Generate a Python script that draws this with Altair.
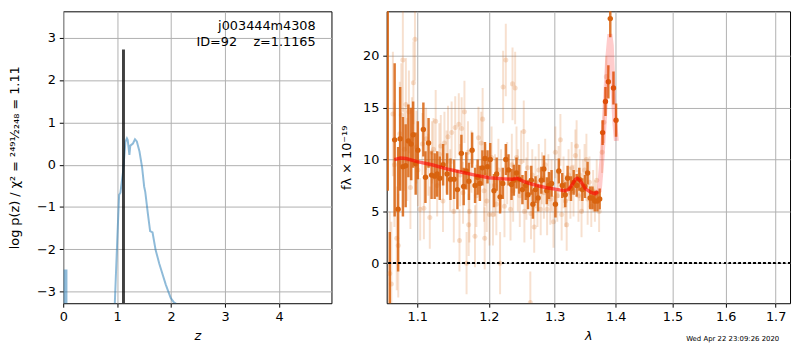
import altair as alt
import pandas as pd

# ---------------- left panel: log p(z) ----------------
z_grid = [0.020, 0.024, 0.060, 0.065, 0.940, 0.955, 1.000, 1.036, 1.060, 1.110,
          1.152, 1.180, 1.195, 1.226, 1.243, 1.292, 1.330, 1.364, 1.413, 1.462,
          1.500, 1.520, 1.570, 1.610, 1.655, 1.710, 1.780, 1.900, 1.990, 2.050,
          2.080, 2.100, 4.970]
logp = [-30.0, -2.50, -2.50, -30.0, -30.0, -3.30, -1.81, -0.71, -0.66, -0.15,
        0.54, 0.62, 0.58, 0.23, 0.45, 0.50, 0.60, 0.55, 0.31, -0.07,
        -0.52, -0.64, -1.17, -1.57, -1.60, -2.00, -2.34, -2.83, -3.14, -3.25,
        -3.27, -30.0, -30.0]
z_best = [1.1165]
logp_peak = [2.72]
obj_name = ["j003444m4308"]
id_text = ["ID=92\u00a0\u00a0\u00a0\u00a0z=1.1165"]
left_ytitle = "log p(z) / \u03c7\u00b2 = \u00b2\u2074\u2079\u00b9\u2044\u2082\u2082\u2084\u2088 = 1.11"
left_xticks = [0, 1, 2, 3, 4]
left_yticks = [-3, -2, -1, 0, 1, 2, 3]

# ---------------- right panel: spectrum ----------------
dark_lam = [1.0614, 1.0640, 1.0703, 1.0748, 1.0775, 1.0811, 1.0847, 1.0883, 1.0919, 1.0946,
            1.0980, 1.1009, 1.1083, 1.1111, 1.1153, 1.1194, 1.1236, 1.1270, 1.1306, 1.1352,
            1.1407, 1.1454, 1.1505, 1.1551, 1.1607, 1.1639, 1.1676, 1.1713, 1.1759, 1.1801,
            1.1838, 1.1870, 1.1907, 1.1944, 1.1981, 1.2020, 1.2075, 1.2115, 1.2165, 1.2205,
            1.2250, 1.2290, 1.2335, 1.2370, 1.2410, 1.2450, 1.2500, 1.2550, 1.2585, 1.2635,
            1.2660, 1.2700, 1.2740, 1.2790, 1.2830, 1.2875, 1.2910, 1.2950, 1.3011, 1.3065,
            1.3119, 1.3167, 1.3205, 1.3259, 1.3302, 1.3351, 1.3394, 1.3443, 1.3486, 1.3529,
            1.3572, 1.3610, 1.3648, 1.3691, 1.3729, 1.3778, 1.3826, 1.3875, 1.3907, 1.3961,
            1.4005]
dark_f = [28.0, -4.5, 11.9, 5.2, 12.0, 9.3, 9.4, 11.8, 11.5, 12.4,
          9.6, 10.9, 12.9, 8.3, 11.6, 8.5, 8.4, 8.6, 8.2, 9.5,
          8.6, 8.1, 8.1, 7.1, 10.6, 7.4, 8.9, 7.9, 10.9, 7.5,
          8.3, 7.7, 9.2, 10.1, 9.3, 10.0, 7.0, 8.6, 6.4, 7.7,
          10.0, 9.0, 7.6, 8.0, 8.7, 8.1, 7.1, 7.5, 6.6, 8.0,
          5.7, 7.1, 6.3, 8.0, 9.1, 7.0, 7.5, 7.7, 5.7, 8.9,
          7.5, 6.6, 8.2, 7.2, 7.8, 7.5, 8.1, 7.1, 7.4, 8.7,
          6.3, 6.3, 6.0, 6.0, 6.2, 12.6, 15.6, 17.5, 23.6, 16.9,
          13.8]
dark_e = [21.0, 7.5, 7.4, 6.0, 5.0, 4.8, 4.0, 3.5, 3.5, 3.2,
          3.0, 2.8, 2.6, 2.5, 2.4, 2.3, 2.2, 2.2, 2.1, 2.0,
          2.0, 2.0, 1.9, 1.9, 1.8, 1.8, 1.8, 1.8, 1.7, 1.7,
          1.7, 1.7, 1.7, 1.6, 1.6, 1.6, 1.6, 1.6, 1.6, 1.5,
          1.5, 1.5, 1.5, 1.5, 1.5, 1.4, 1.4, 1.4, 1.4, 1.4,
          1.4, 1.3, 1.3, 1.3, 1.3, 1.3, 1.3, 1.3, 1.3, 1.2,
          1.2, 1.2, 1.2, 1.2, 1.2, 1.1, 1.1, 1.1, 1.1, 1.1,
          1.1, 1.1, 1.0, 1.0, 1.0, 1.2, 1.4, 1.6, 1.8, 1.6,
          1.6]

light_lam = [1.064, 1.066, 1.068, 1.070, 1.073, 1.075, 1.077, 1.079, 1.081, 1.083,
             1.085, 1.087, 1.089, 1.091, 1.093, 1.095, 1.097, 1.099, 1.101, 1.104,
             1.107, 1.109, 1.112, 1.115, 1.117, 1.120, 1.122, 1.125, 1.127, 1.130,
             1.132, 1.135, 1.137, 1.140, 1.142, 1.145, 1.147, 1.150, 1.152, 1.157,
             1.158, 1.159, 1.161, 1.163, 1.165, 1.168, 1.170, 1.171, 1.172, 1.175,
             1.180, 1.182, 1.185, 1.189, 1.191, 1.193, 1.194, 1.195, 1.197, 1.201,
             1.204, 1.206, 1.209, 1.211, 1.214, 1.2165, 1.218, 1.221, 1.223, 1.225,
             1.227, 1.232, 1.234, 1.235, 1.236, 1.239, 1.241, 1.243, 1.246, 1.248,
             1.252, 1.253, 1.256, 1.258, 1.262, 1.263, 1.265, 1.268, 1.270, 1.273,
             1.275, 1.278, 1.280, 1.283, 1.285, 1.288, 1.290, 1.293, 1.295, 1.298,
             1.301, 1.304, 1.306, 1.309, 1.311, 1.314, 1.317, 1.319, 1.322, 1.325,
             1.327, 1.330, 1.333, 1.335, 1.338, 1.340, 1.343, 1.345, 1.348, 1.351,
             1.353, 1.356, 1.359, 1.362, 1.365, 1.368, 1.372, 1.377, 1.380, 1.384]
light_f = [-1.0, -2.0, 14.4, 9.5, 2.4, 1.7, 12.5, 14.3, 19.6, 11.0,
           15.3, 10.0, 14.6, 7.3, 12.0, 17.4, 21.6, 11.2, 9.0, 5.2,
           11.5, 5.3, 12.0, 9.5, 4.4, 10.7, 11.0, 13.7, 7.5, 10.5,
           11.3, 6.0, 11.6, 9.8, 12.2, 8.0, 12.6, 5.0, 13.1, 13.4,
           2.2, 8.5, 13.0, 6.8, 14.6, 0.0, 10.7, 3.7, 5.0, 9.8,
           2.6, 6.5, 12.1, 11.6, 13.9, 7.0, 2.4, 8.5, 6.0, 4.7,
           10.2, 4.7, 7.5, 5.7, 9.0, 0.0, 8.0, 17.0, 5.5, 19.6,
           8.7, 5.2, 9.5, 17.3, 7.0, 16.9, 10.2, 8.0, 6.5, 9.8,
           12.7, 5.0, 7.2, 9.2, -3.8, 4.8, 8.5, 3.5, 7.8, 6.0,
           9.0, 5.2, 8.2, 6.8, 9.5, 5.2, 8.0, 6.2, 7.5, 4.0,
           10.7, 6.5, 8.8, 11.9, 4.7, 7.8, 6.0, 3.7, 8.5, 6.8,
           9.2, 7.0, 10.4, 11.3, 6.5, 8.5, 5.0, 7.5, 9.0, 10.0,
           6.2, 7.8, 5.5, 7.0, 6.0, 8.0, 5.0, 10.7, 13.6, 18.0]
light_e = [6.0, 6.0, 6.0, 6.0, 5.0, 5.0, 5.0, 5.0, 5.0, 4.0,
           4.5, 4.0, 4.0, 4.0, 4.0, 4.0, 4.0, 3.5, 3.5, 3.0,
           3.0, 3.0, 3.0, 3.0, 3.0, 3.0, 3.0, 3.0, 3.0, 3.0,
           3.0, 3.0, 3.0, 3.0, 3.0, 3.0, 3.0, 3.0, 3.0, 3.0,
           3.0, 3.0, 3.0, 3.0, 3.0, 3.0, 3.0, 3.0, 3.0, 3.0,
           3.0, 3.0, 3.0, 3.0, 3.0, 3.0, 3.0, 3.0, 3.0, 3.0,
           3.0, 3.0, 3.0, 3.0, 3.0, 3.0, 3.0, 3.5, 3.0, 3.5,
           3.0, 3.0, 3.0, 3.5, 3.0, 3.5, 3.0, 3.0, 3.0, 3.0,
           3.0, 3.0, 3.0, 2.5, 3.0, 2.5, 2.5, 2.5, 2.5, 2.5,
           2.5, 2.5, 2.5, 2.5, 2.5, 2.5, 2.5, 2.5, 2.5, 2.5,
           2.5, 2.5, 2.5, 2.5, 2.5, 2.5, 2.5, 2.5, 2.5, 2.5,
           2.5, 2.5, 2.5, 2.5, 2.5, 2.5, 2.5, 2.5, 2.5, 2.5,
           2.5, 2.5, 2.0, 2.0, 2.0, 2.0, 2.0, 2.0, 2.0, 2.0]

model_lam = [1.0700, 1.0780, 1.0850, 1.1000, 1.1200, 1.1400, 1.1600, 1.1800, 1.2000, 1.2200,
             1.2350, 1.2420, 1.2500, 1.2600, 1.2750, 1.2900, 1.3050, 1.3160, 1.3220, 1.3280,
             1.3330, 1.3360, 1.3400, 1.3450, 1.3490, 1.3580, 1.3650, 1.3700]
model_f = [10.0, 10.15, 10.1, 9.8, 9.5, 9.1, 8.8, 8.5, 8.25, 8.15,
           8.1, 8.2, 7.95, 7.7, 7.45, 7.25, 7.1, 7.0, 7.1, 7.6,
           8.1, 8.2, 8.0, 7.6, 7.2, 6.85, 6.7, 6.9]
line_lam = [1.3650, 1.3723, 1.3768, 1.3820, 1.3860, 1.3900, 1.3925, 1.3956, 1.3985, 1.4010]
line_f = [6.7, 7.0, 10.1, 15.0, 19.5, 22.1, 21.0, 16.6, 13.5, 11.8]

right_xticks = [1.1, 1.2, 1.3, 1.4, 1.5, 1.6, 1.7]
right_yticks = [0, 5, 10, 15, 20]
stamp = ["Wed Apr 22 23:09:26 2020"]

ORANGE = "#d8630f"
FONT = "DejaVu Sans"
W_L, W_R, H = 272, 409, 296

# ---------- left chart ----------
xs_l = alt.Scale(domain=[0, 4.97], nice=False, zero=False)
ys_l = alt.Scale(domain=[-3.27, 3.62], nice=False, zero=False)


def lx(field):
    return alt.X(field, scale=xs_l,
                 axis=alt.Axis(values=left_xticks, title="z", titleFontStyle="italic",
                               format="d", titlePadding=6))


def ly(field):
    return alt.Y(field, scale=ys_l,
                 axis=alt.Axis(values=left_yticks, title=left_ytitle, format="d",
                               titlePadding=15))


df_pz = pd.DataFrame({"z": z_grid, "logp": logp})
df_best = pd.DataFrame({"z": z_best, "logp": logp_peak})

pz_line = alt.Chart(df_pz).mark_line(color="#1f77b4", opacity=0.5, strokeWidth=2,
                                     clip=True).encode(x=lx("z:Q"), y=ly("logp:Q"))
best_rule = alt.Chart(df_best).mark_rule(color="black", opacity=0.75, strokeWidth=3,
                                         clip=True).encode(
    x=lx("z:Q"), y=ly("logp:Q"), y2=alt.value(H))
name_txt = alt.Chart(pd.DataFrame({"t": obj_name})).mark_text(
    align="right", baseline="alphabetic", font=FONT, fontSize=13, color="black").encode(
    text="t:N", x=alt.value(256), y=alt.value(19))
id_txt = alt.Chart(pd.DataFrame({"t": id_text})).mark_text(
    align="right", baseline="alphabetic", font=FONT, fontSize=13, color="black").encode(
    text="t:N", x=alt.value(256), y=alt.value(35))

left = alt.layer(pz_line, best_rule, name_txt, id_txt).properties(width=W_L, height=H)

# ---------- right chart ----------
xs_r = alt.Scale(type="log", domain=[1.060, 1.730], nice=False)
ys_r = alt.Scale(domain=[-3.86, 24.3], nice=False, zero=False)


def rx(field):
    return alt.X(field, scale=xs_r,
                 axis=alt.Axis(values=right_xticks, format=".1f", title="\u03bb",
                               titleFontStyle="italic", titlePadding=6))


def ry(field):
    return alt.Y(field, scale=ys_r,
                 axis=alt.Axis(values=right_yticks, format="d",
                               title="f\u03bb \u00d7 10\u207b\u00b9\u2079", titlePadding=9))


df_dark = pd.DataFrame({"lam": dark_lam, "f": dark_f, "e": dark_e})
df_light = pd.DataFrame({"lam": light_lam, "f": light_f, "e": light_e})
df_model = pd.DataFrame({"lam": model_lam, "f": model_f})
df_line = pd.DataFrame({"lam": line_lam, "f": line_f})

light_bars = alt.Chart(df_light).transform_calculate(
    lo="datum.f - datum.e", hi="datum.f + datum.e").mark_rule(
    color=ORANGE, opacity=0.2, strokeWidth=2, clip=True).encode(
    x=rx("lam:Q"), y=ry("lo:Q"), y2="hi:Q")
light_pts = alt.Chart(df_light).mark_circle(color=ORANGE, opacity=0.2, size=26,
                                            clip=True).encode(x=rx("lam:Q"), y=ry("f:Q"))
dark_bars = alt.Chart(df_dark).transform_calculate(
    lo="datum.f - datum.e", hi="datum.f + datum.e").mark_rule(
    color=ORANGE, opacity=0.85, strokeWidth=2.5, clip=True).encode(
    x=rx("lam:Q"), y=ry("lo:Q"), y2="hi:Q")
dark_pts = alt.Chart(df_dark).mark_circle(color=ORANGE, opacity=1, size=30,
                                          clip=True).encode(x=rx("lam:Q"), y=ry("f:Q"))
model_ln = alt.Chart(df_model).mark_line(color="red", opacity=0.6, strokeWidth=3.5,
                                         clip=True).encode(x=rx("lam:Q"), y=ry("f:Q"))
line_ln = alt.Chart(df_line).mark_line(color="red", opacity=0.2, strokeWidth=5,
                                       clip=True).encode(x=rx("lam:Q"), y=ry("f:Q"))
zero_ln = alt.Chart(df_line).mark_rule(color="black", strokeWidth=1.5,
                                       strokeDash=[2, 3]).encode(y=alt.datum(0))
stamp_txt = alt.Chart(pd.DataFrame({"t": stamp})).mark_text(
    align="right", baseline="middle", font=FONT, fontSize=7, color="black").encode(
    text="t:N", x=alt.value(398), y=alt.value(332))

right = alt.layer(light_bars, light_pts, dark_bars, dark_pts, model_ln, line_ln,
                  zero_ln, stamp_txt).properties(width=W_R, height=H)

chart = alt.hconcat(left, right, spacing=56, bounds="flush").properties(
    padding=0
).configure_view(stroke="black", strokeWidth=1).configure_axis(
    labelFont=FONT, labelFontSize=13, labelColor="black", labelFlush=False,
    titleFont=FONT, titleFontSize=13, titleFontWeight="normal", titleColor="black",
    tickColor="black", tickSize=4, labelPadding=4, domain=False,
    gridColor="#b0b0b0", gridWidth=1, gridOpacity=1,
)

chart.save("out.html", embed_options={"renderer": "svg", "actions": False})
